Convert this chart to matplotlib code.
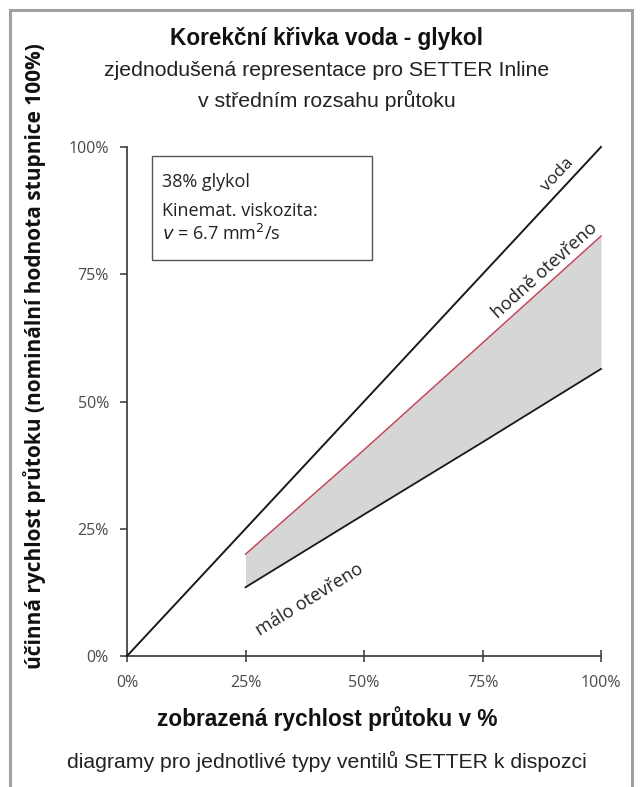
import numpy as np
import matplotlib
matplotlib.use('Agg')
import matplotlib.pyplot as plt
from matplotlib.patches import Rectangle

# data (percent)
voda_x = [0, 100]
voda_y = [0, 100]
band_x = [25, 50, 75, 100]
hodne_y = [20, 40.5, 61.5, 82.5]   # hodne otevreno (upper, red)
malo_y = [13.5, 27.8, 42.0, 56.4]  # malo otevreno (lower)
ticks = [0, 25, 50, 75, 100]
tick_labels = ['0%', '25%', '50%', '75%', '100%']

helv = 'Liberation Sans'
myr = 'Open Sans'

fig = plt.figure(figsize=(6.41, 7.87), dpi=100)
fig.patch.set_facecolor('white')

# outer grey frame (open at the bottom edge of the image)
fig.patches.append(Rectangle((10 / 641, -0.02), 622 / 641, 1.02 - 10 / 787,
                             transform=fig.transFigure, fill=False,
                             edgecolor='#a0a0a0', linewidth=2.2))

ax = fig.add_axes([127 / 641, 1 - 656 / 787, 474 / 641, 509 / 787])
ax.set_xlim(0, 100)
ax.set_ylim(0, 100)

ax.fill_between(band_x, malo_y, hodne_y, color='#d6d6d6', linewidth=0, zorder=1)
ax.plot(voda_x, voda_y, color='#1a1a1a', lw=1.4, clip_on=False, zorder=3)
ax.plot(band_x, hodne_y, color='#c0485a', lw=1.1, clip_on=False, zorder=3)
ax.plot(band_x, malo_y, color='#1a1a1a', lw=1.3, clip_on=False, zorder=3)

for s in ['top', 'right']:
    ax.spines[s].set_visible(False)
for s in ['left', 'bottom']:
    ax.spines[s].set_color('#444444')
    ax.spines[s].set_linewidth(1.3)

ax.set_xticks(ticks)
ax.set_xticklabels(tick_labels)
ax.set_yticks(ticks)
ax.set_yticklabels(tick_labels)
ax.tick_params(width=1.2, color='#444444', labelcolor='#4a4a4a', labelsize=11.5)
ax.tick_params(axis='x', direction='inout', length=8, pad=10)
ax.tick_params(axis='y', direction='out', length=5, pad=8)
for lab in ax.get_xticklabels() + ax.get_yticklabels():
    lab.set_family(myr)

# line labels
ax.text(92, 93.5, 'voda', rotation=45, transform_rotates_text=True,
        rotation_mode='anchor', ha='center', va='bottom', fontsize=12.5,
        family=myr, color='#222222')
ax.text(89.5, 74.5, 'hodně otevřeno', rotation=39.8, transform_rotates_text=True,
        rotation_mode='anchor', ha='center', va='bottom', fontsize=13,
        family=myr, color='#222222')
ax.text(37.5, 12.5, 'málo otevřeno', rotation=29.8, transform_rotates_text=True,
        rotation_mode='anchor', ha='center', va='top', fontsize=13,
        family=myr, color='#222222')

# info box
fig.patches.append(Rectangle((152 / 641, 1 - 260 / 787), 220 / 641, 104 / 787,
                             transform=fig.transFigure, fill=False,
                             edgecolor='#555555', linewidth=1.0))
fig.text(162 / 641, 1 - 182 / 787, '38% glykol', fontsize=13, family=myr,
         color='#222222', va='center')
fig.text(162 / 641, 1 - 211 / 787, 'Kinemat. viskozita:', fontsize=13, family=myr,
         color='#222222', va='center')
fig.text(162 / 641, 1 - 234 / 787, r'$\it{v}$ = 6.7 mm$^2$/s', fontsize=13, family=myr,
         color='#222222', va='center')

# titles
cx = 327 / 641
fig.text(cx, 1 - 39 / 787, 'Korekční křivka voda - glykol', ha='center', va='center',
         fontsize=16.3, fontweight='bold', family=helv, color='#111111')
fig.text(cx, 1 - 70 / 787, 'zjednodušená representace pro SETTER Inline', ha='center',
         va='center', fontsize=15.3, family=helv, color='#222222')
fig.text(cx, 1 - 100 / 787, 'v středním rozsahu průtoku', ha='center',
         va='center', fontsize=15.3, family=helv, color='#222222')

# axis labels
fig.text(cx, 1 - 719 / 787, 'zobrazená rychlost průtoku v %', ha='center',
         va='center', fontsize=16.3, fontweight='bold', family=helv, color='#111111')
fig.text(35 / 641, 1 - 356 / 787, 'účinná rychlost průtoku (nominální hodnota stupnice 100%)',
         ha='center', va='center', rotation=90, fontsize=15, fontweight='bold',
         family=myr, color='#111111')
fig.text(cx, 1 - 761 / 787, 'diagramy pro jednotlivé typy ventilů SETTER k dispozci',
         ha='center', va='center', fontsize=15.3, family=helv, color='#222222')

fig.savefig('out.png', dpi=100)
